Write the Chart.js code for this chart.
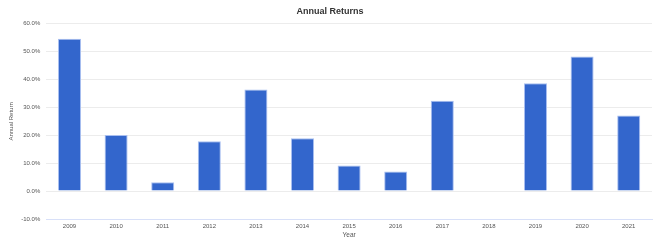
<!DOCTYPE html>
<html>
<head>
<meta charset="utf-8">
<script src="https://cdn.jsdelivr.net/npm/chart.js@4/dist/chart.umd.min.js"></script>
<style>
  html, body { margin: 0; padding: 0; background: #fff; }
  #wrap { width: 663px; height: 244px; }
</style>
</head>
<body>
<div id="wrap"><canvas id="barChart"></canvas></div>
<script>
  const years = ['2009', '2010', '2011', '2012', '2013', '2014', '2015', '2016', '2017', '2018', '2019', '2020', '2021'];
  const annualReturns = [54.6, 20.1, 3.2, 17.9, 36.4, 19.0, 9.2, 7.0, 32.4, null, 38.7, 48.3, 27.1];
  const yTicks = [-10, 0, 10, 20, 30, 40, 50, 60];

  Chart.defaults.font.family = '"Liberation Sans", Arial, sans-serif';

  const data = {
    labels: years,
    datasets: [{
      label: 'Annual Return',
      backgroundColor: '#3366cc',
      borderColor: '#a9bff0',
      borderWidth: 1,
      barPercentage: 0.52,
      categoryPercentage: 0.95,
      data: annualReturns
    }]
  };

  const config = {
    type: 'bar',
    data: data,
    options: {
      responsive: true,
      maintainAspectRatio: false,
      animation: false,
      layout: { padding: { left: 8, right: 11, top: 0, bottom: 5 } },
      plugins: {
        legend: { display: false },
        tooltip: { enabled: false },
        title: {
          display: true,
          text: 'Annual Returns',
          color: '#333',
          font: { size: 9, weight: 'bold' },
          padding: { top: 6, bottom: 7 }
        }
      },
      scales: {
        x: {
          grid: { display: false, drawTicks: false },
          border: { color: '#d8e0f8' },
          ticks: { color: '#555', font: { size: 6 }, padding: 4 },
          title: { display: true, text: 'Year', color: '#555', font: { size: 6.5 }, padding: { top: -3, bottom: 0 } }
        },
        y: {
          min: yTicks[0],
          max: yTicks[yTicks.length - 1],
          afterBuildTicks: (axis) => { axis.ticks = yTicks.map(v => ({ value: v })); },
          grid: { color: '#ececec', drawTicks: false },
          border: { display: false },
          ticks: {
            color: '#555',
            font: { size: 6 },
            padding: 6,
            callback: (v) => v.toFixed(1) + '%'
          },
          title: { display: true, text: 'Annual Return', color: '#555', font: { size: 6 }, padding: { top: 0, bottom: 0 } }
        }
      }
    }
  };

  const barChart = new Chart(document.getElementById('barChart'), config);
</script>
</body>
</html>
